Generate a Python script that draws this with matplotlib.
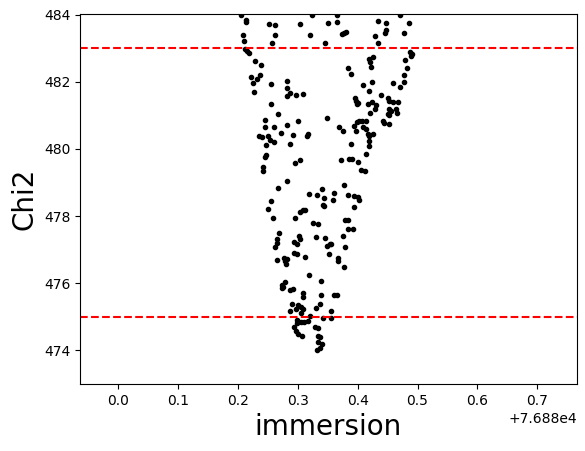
import numpy as np
import matplotlib
matplotlib.use("Agg")
import matplotlib.pyplot as plt

# immersion times (offset from 76880) and chi2 values
immersion_top = [0.205, 0.213, 0.213, 0.209, 0.210, 0.212, 0.215, 0.218, 0.2525, 0.2625,
                 0.2625, 0.2575, 0.3036, 0.3236, 0.3198, 0.346, 0.351, 0.3648, 0.366, 0.374,
                 0.377, 0.380, 0.4345, 0.4476, 0.445, 0.4465, 0.4296, 0.4345, 0.4707, 0.486,
                 0.4776, 0.488, 0.490, 0.489]
chi2_top = [484.0, 483.78, 483.83, 483.38, 483.2, 482.97, 482.92, 482.87, 483.71, 483.68,
            483.38, 483.15, 483.71, 484.0, 483.38, 483.15, 483.76, 483.79, 483.99, 483.41,
            483.46, 483.49, 483.82, 483.76, 483.46, 483.54, 483.35, 483.15, 484.0, 483.74,
            483.44, 482.89, 482.82, 482.77]

immersion_482 = [0.2288, 0.2388, 0.237, 0.232, 0.2213, 0.2244, 0.2263, 0.2556, 0.2818, 0.2812,
                 0.2874, 0.2812, 0.2974, 0.3092, 0.2544, 0.3834, 0.389, 0.4183, 0.4208, 0.4258,
                 0.4227, 0.409, 0.424, 0.4196, 0.4582, 0.4782, 0.482, 0.4776, 0.4776, 0.4713,
                 0.4383]
chi2_482 = [482.63, 482.49, 482.21, 482.07, 482.13, 481.95, 481.71, 481.92, 482.02, 481.80,
            481.68, 481.58, 481.62, 481.65, 481.35, 482.42, 482.24, 482.67, 482.59, 482.74,
            482.44, 481.90, 482.0, 481.72, 481.95, 482.64, 482.42, 482.20, 481.98, 481.83,
            481.62]

immersion_480 = [0.396, 0.398, 0.400, 0.399, 0.424, 0.418, 0.4308, 0.429, 0.421, 0.4508,
                 0.4526, 0.4582, 0.4676, 0.452, 0.455, 0.450, 0.453, 0.4632, 0.4664, 0.4427,
                 0.4445, 0.4526, 0.348, 0.2675, 0.2444, 0.2456, 0.2606, 0.2812, 0.3005, 0.235,
                 0.2394, 0.250, 0.2531, 0.2594, 0.2475, 0.2712, 0.2924, 0.2874, 0.3148, 0.3167,
                 0.369, 0.3759, 0.3946, 0.399, 0.4027, 0.407, 0.4133, 0.3965, 0.4083, 0.4133,
                 0.4164, 0.4196, 0.4258, 0.4183, 0.4196, 0.389, 0.2463, 0.245, 0.2425, 0.2425,
                 0.3036, 0.2961, 0.3716, 0.386, 0.391, 0.4009, 0.4146, 0.4052, 0.4115]
chi2_480 = [481.51, 481.43, 481.38, 481.33, 481.41, 481.33, 481.30, 481.18, 481.08, 481.51,
            481.43, 481.40, 481.41, 481.19, 481.12, 481.05, 481.02, 481.18, 481.08, 480.82,
            480.76, 480.74, 480.91, 481.05, 480.85, 480.65, 480.65, 480.70, 480.82, 480.39,
            480.34, 480.39, 480.26, 480.21, 480.13, 480.46, 480.40, 480.16, 480.39, 480.44,
            480.65, 480.52, 480.69, 480.79, 480.82, 480.82, 480.82, 480.54, 480.64, 480.59,
            480.44, 480.37, 480.44, 480.24, 480.09, 480.16, 479.82, 479.76, 479.45, 479.34,
            479.68, 479.58, 479.68, 479.69, 479.69, 479.62, 479.86, 479.38, 479.34]

immersion_478 = [0.2818, 0.2669, 0.2556, 0.250, 0.2587, 0.318, 0.3398, 0.3324, 0.3436, 0.3423,
                 0.343, 0.3604, 0.3592, 0.3773, 0.384, 0.3946, 0.4009, 0.402, 0.3934, 0.3036,
                 0.3086, 0.3123, 0.2955]
chi2_478 = [479.03, 478.82, 478.46, 478.20, 477.93, 478.67, 478.79, 478.62, 478.53, 478.33,
            478.29, 478.70, 478.49, 478.93, 478.63, 478.60, 478.56, 478.48, 478.26, 478.13,
            478.17, 478.17, 477.95]

immersion_476 = [0.3784, 0.3834, 0.3834, 0.3921, 0.3759, 0.3796, 0.326, 0.3336, 0.331, 0.3455,
                 0.349, 0.3536, 0.356, 0.3523, 0.3666, 0.3666, 0.3773, 0.2687, 0.2644, 0.265,
                 0.262, 0.2644, 0.2762, 0.2793, 0.280, 0.2824, 0.2936, 0.298, 0.3017, 0.303,
                 0.293, 0.298, 0.3123, 0.3186, 0.2737, 0.273, 0.2756, 0.2793, 0.2868, 0.2918,
                 0.3386]
chi2_476 = [477.87, 477.87, 477.61, 477.61, 477.40, 477.07, 477.78, 477.75, 477.38, 477.35,
            477.12, 477.16, 477.16, 476.86, 476.75, 476.65, 476.48, 477.48, 477.31, 477.21,
            477.07, 476.68, 476.74, 476.67, 476.57, 476.73, 477.23, 477.18, 477.39, 477.31,
            476.91, 476.88, 476.78, 476.24, 475.94, 475.86, 475.88, 476.02, 475.81, 475.83,
            476.05]

immersion_474 = [0.3086, 0.3086, 0.3386, 0.3604, 0.3648, 0.2911, 0.2874, 0.2967, 0.3011, 0.3061,
                 0.3086, 0.3061, 0.3367, 0.3311, 0.356, 0.3554, 0.3423, 0.3205, 0.298, 0.2993,
                 0.305, 0.3105, 0.3167, 0.2943, 0.2974, 0.3005, 0.3074, 0.3292, 0.3329, 0.3329,
                 0.3367, 0.3336, 0.3367, 0.3404, 0.3324]
chi2_474 = [475.72, 475.60, 475.65, 475.65, 475.65, 475.39, 475.16, 475.23, 475.36, 475.28,
            475.23, 475.11, 475.37, 475.25, 475.16, 474.96, 474.96, 475.01, 474.89, 474.81,
            474.85, 474.85, 474.88, 474.69, 474.58, 474.49, 474.42, 474.68, 474.65, 474.42,
            474.38, 474.24, 474.06, 474.18, 474.02]

t_base = 76880.0
chi2_limits = [483.0, 475.0]


def main():
    x_off = np.array(immersion_top + immersion_482 + immersion_480 +
                     immersion_478 + immersion_476 + immersion_474)
    chi2 = np.array(chi2_top + chi2_482 + chi2_480 + chi2_478 + chi2_476 + chi2_474)
    immersion = t_base + x_off

    fig = plt.figure(figsize=(5.85, 4.51), dpi=100)
    ax = fig.add_axes([0.137, 0.149, 0.849, 0.82])
    ax.plot(immersion, chi2, 'k.')
    for lim in chi2_limits:
        ax.axhline(lim, color='red', linestyle='--')
    ax.set_xlim(t_base - 0.0636, t_base + 0.766)
    ax.set_ylim(473.0, 484.02)
    ax.set_xlabel('immersion', fontsize=20)
    ax.set_ylabel('Chi2', fontsize=20)
    fig.savefig('out.png')


if __name__ == "__main__":
    main()
